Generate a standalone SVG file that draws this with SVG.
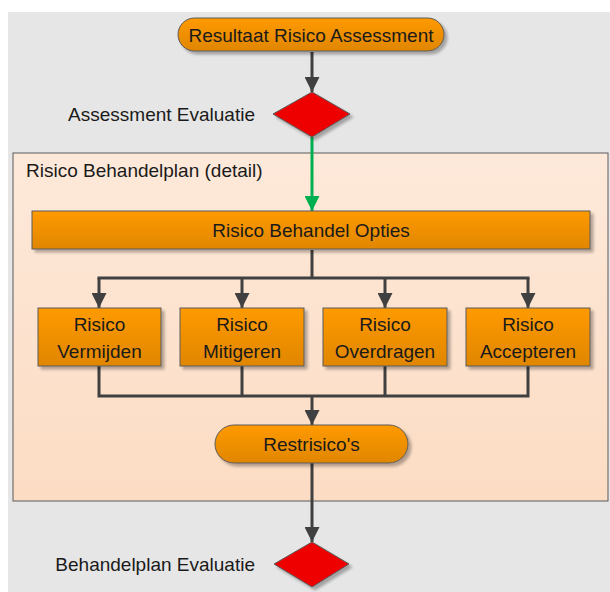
<svg xmlns="http://www.w3.org/2000/svg" width="610" height="592" viewBox="0 0 610 592">
<defs>
<linearGradient id="og" x1="0" y1="0" x2="0" y2="1"><stop offset="0" stop-color="#FF9A00"/><stop offset="1" stop-color="#E08600"/></linearGradient>
<linearGradient id="pg" x1="0" y1="0" x2="0" y2="1"><stop offset="0" stop-color="#FDE9DA"/><stop offset="1" stop-color="#FCDCC3"/></linearGradient>
<filter id="sh" x="-10%" y="-10%" width="130%" height="150%"><feGaussianBlur in="SourceAlpha" stdDeviation="1.5"/><feOffset dx="3" dy="3" result="b"/><feComponentTransfer><feFuncA type="linear" slope="0.3"/></feComponentTransfer><feMerge><feMergeNode/><feMergeNode in="SourceGraphic"/></feMerge></filter>
<marker id="ah" viewBox="0 0 16 15" refX="15" refY="7.5" markerWidth="16" markerHeight="15" markerUnits="userSpaceOnUse" orient="auto"><path d="M0,0 L15,7.5 L0,15 Z" fill="#404040"/></marker>
<marker id="ag" viewBox="0 0 16 15" refX="15" refY="7.5" markerWidth="16" markerHeight="15" markerUnits="userSpaceOnUse" orient="auto"><path d="M0,0 L15,7.5 L0,15 Z" fill="#00B050"/></marker>
</defs>
<style>
.t{font-family:"Liberation Sans",Arial,sans-serif;font-size:19px;fill:#1a1a1a}
.c{text-anchor:middle}
.r{text-anchor:end}
.box{fill:url(#og);stroke:#5a5a5a;stroke-width:1;filter:url(#sh)}
.dia{fill:#EE0000;stroke:#5a5a5a;stroke-width:1;filter:url(#sh)}
.ln{fill:none;stroke:#404040;stroke-width:3}
</style>
<rect x="0" y="0" width="610" height="592" fill="#ffffff"/>
<rect x="8" y="12" width="602" height="580" fill="#E6E6E6"/>
<g id="container">
<rect x="13" y="153" width="595" height="348" fill="url(#pg)" stroke="#5a5a5a" stroke-width="1"/>
<text class="t" x="26" y="177">Risico Behandelplan (detail)</text>
</g>
<g id="connectors">
<path class="ln" d="M312,52 V92" marker-end="url(#ah)"/>
<path d="M312,137 V211" fill="none" stroke="#00B050" stroke-width="3" marker-end="url(#ag)"/>
<path class="ln" d="M312,250 V278"/>
<path class="ln" d="M97.5,278 H529.5"/>
<path class="ln" d="M99,278 V308" marker-end="url(#ah)"/>
<path class="ln" d="M242,278 V308" marker-end="url(#ah)"/>
<path class="ln" d="M385,278 V308" marker-end="url(#ah)"/>
<path class="ln" d="M528,278 V308" marker-end="url(#ah)"/>
<path class="ln" d="M99,366 V396 H528 V366"/>
<path class="ln" d="M242,366 V396"/>
<path class="ln" d="M385,366 V396"/>
<path class="ln" d="M312,396 V425" marker-end="url(#ah)"/>
<path class="ln" d="M312,463 V542" marker-end="url(#ah)"/>
</g>
<g id="start">
<rect class="box" x="178" y="18" width="266" height="33" rx="16.5"/>
<text class="t c" x="311" y="41.5">Resultaat Risico Assessment</text>
</g>
<g id="eval1">
<path class="dia" d="M312,92 L350,114 L312,137 L273,114 Z"/>
<text class="t r" x="255" y="120.5">Assessment Evaluatie</text>
</g>
<g id="opties">
<rect class="box" x="32" y="211" width="558" height="38"/>
<text class="t c" x="311" y="237">Risico Behandel Opties</text>
</g>
<g id="vermijden">
<rect class="box" x="38" y="308" width="123" height="58"/>
<text class="t c" x="99.5" y="331">Risico</text>
<text class="t c" x="99.5" y="358">Vermijden</text>
</g>
<g id="mitigeren">
<rect class="box" x="180" y="308" width="124" height="58"/>
<text class="t c" x="242" y="331">Risico</text>
<text class="t c" x="242" y="358">Mitigeren</text>
</g>
<g id="overdragen">
<rect class="box" x="323" y="308" width="124" height="58"/>
<text class="t c" x="385" y="331">Risico</text>
<text class="t c" x="385" y="358">Overdragen</text>
</g>
<g id="accepteren">
<rect class="box" x="466" y="308" width="124" height="58"/>
<text class="t c" x="528" y="331">Risico</text>
<text class="t c" x="528" y="358">Accepteren</text>
</g>
<g id="restrisicos">
<rect class="box" x="215" y="425" width="193" height="38" rx="19"/>
<text class="t c" x="311.5" y="451">Restrisico's</text>
</g>
<g id="eval2">
<path class="dia" d="M312,542 L349,564 L312,587 L274,564 Z"/>
<text class="t r" x="255" y="570.5">Behandelplan Evaluatie</text>
</g>
</svg>
